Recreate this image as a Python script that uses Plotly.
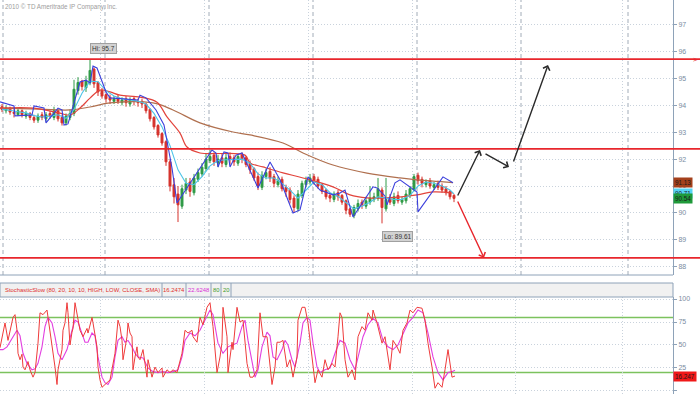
import plotly.graph_objects as go

# ---------------- data ----------------
bar_open = [93.95,93.80,93.90,93.75,93.65,93.80,93.60,93.70,93.55,93.45,
            93.65,93.50,93.70,93.55,93.80,93.55,93.35,93.55,93.70,94.55,
            94.90,94.65,94.85,95.35,94.85,94.55,94.40,94.30,94.15,94.30,
            94.10,94.25,94.05,94.25,94.15,94.15,94.05,93.85,93.55,93.25,
            92.95,92.65,91.90,91.05,90.70,90.25,90.85,91.15,90.75,91.25,
            91.45,91.65,91.95,92.15,91.85,92.05,91.80,92.10,92.05,91.85,
            92.15,92.05,91.85,91.65,91.35,90.95,91.35,91.55,91.35,91.05,
            91.25,90.95,90.85,90.55,90.15,90.65,91.05,91.15,91.35,91.25,
            91.05,90.85,90.65,90.50,90.75,90.65,90.45,90.15,89.90,90.15,
            90.40,90.25,90.40,90.50,90.55,90.85,90.15,90.55,90.35,90.65,
            90.40,90.45,90.65,90.85,91.40,91.25,91.05,91.20,90.95,91.10,
            91.00,90.90,90.80,90.65]
bar_high = [94.05,94.00,93.95,93.85,93.90,93.85,93.80,93.75,93.65,93.70,
            93.75,93.75,93.80,93.95,93.85,93.65,93.70,93.85,94.95,95.05,
            94.95,95.10,95.70,95.40,94.90,94.65,94.45,94.40,94.35,94.40,
            94.30,94.35,94.30,94.35,94.25,94.25,94.10,93.90,93.60,93.30,
            93.00,92.70,92.00,91.30,91.00,91.05,91.30,91.30,91.45,91.65,
            91.85,92.20,92.35,92.25,92.15,92.20,92.20,92.25,92.15,92.20,
            92.25,92.10,91.95,91.70,91.50,91.55,91.65,91.70,91.45,91.35,
            91.35,91.05,90.95,90.65,90.85,91.20,91.35,91.45,91.45,91.35,
            91.10,90.90,90.75,90.80,90.85,90.70,90.50,90.20,90.30,90.50,
            90.50,90.60,91.00,90.75,91.30,90.95,91.30,90.70,90.75,90.80,
            90.60,90.85,91.00,91.45,91.50,91.35,91.25,91.30,91.15,91.20,
            91.10,91.00,90.85,90.70]
bar_low = [93.75,93.70,93.65,93.55,93.60,93.55,93.50,93.45,93.35,93.35,
           93.45,93.40,93.50,93.45,93.40,93.25,93.25,93.45,93.60,94.40,
           94.55,94.50,94.75,94.65,94.35,94.25,94.10,94.05,94.05,94.05,
           94.00,93.95,93.95,94.00,93.95,93.90,93.70,93.40,93.10,92.80,
           92.50,91.75,90.80,90.35,89.66,90.15,90.70,90.60,90.65,91.15,
           91.35,91.55,91.85,91.75,91.70,91.70,91.70,91.80,91.75,91.75,
           91.85,91.70,91.45,91.20,90.85,90.85,91.25,91.15,90.95,90.95,
           90.80,90.60,90.35,90.00,90.05,90.55,90.95,91.05,91.05,90.90,
           90.70,90.50,90.40,90.40,90.45,90.30,89.95,89.85,89.80,90.05,
           90.15,90.15,90.30,90.40,90.45,89.61,90.05,90.30,90.25,90.35,
           90.30,90.35,90.55,90.80,91.05,90.95,90.95,90.90,90.85,90.85,
           90.75,90.65,90.50,90.40]
bar_close = [93.85,93.90,93.75,93.70,93.80,93.65,93.70,93.55,93.45,93.60,
             93.55,93.65,93.60,93.80,93.50,93.35,93.60,93.70,94.60,94.85,
             94.70,94.90,95.30,94.80,94.50,94.35,94.25,94.20,94.25,94.15,
             94.20,94.10,94.20,94.15,94.10,94.05,93.80,93.50,93.20,92.90,
             92.60,91.90,91.00,90.60,90.30,90.90,91.10,90.80,91.30,91.50,
             91.70,92.00,92.10,91.90,92.00,91.85,92.05,92.00,91.90,92.10,
             92.00,91.80,91.60,91.30,91.00,91.40,91.50,91.30,91.10,91.20,
             90.90,90.80,90.50,90.20,90.70,91.10,91.20,91.30,91.20,91.00,
             90.80,90.60,90.55,90.70,90.60,90.40,90.10,89.95,90.20,90.35,
             90.30,90.45,90.55,90.60,90.90,90.20,90.50,90.40,90.60,90.45,
             90.50,90.70,90.90,91.35,91.20,91.10,91.15,91.00,91.05,90.95,
             90.85,90.75,90.60,90.54]
bars = list(range(len(bar_close)))

# long moving average (brown)
ma_long_t = [-0.5,9.5,17,22,27,37.75,42.75,49.5,57.75,62,70.25,75.25,82.75,91.25,99.5,103.75,112.75]
ma_long_v = [93.90,93.86,93.83,93.94,94.09,94.09,93.83,93.35,93.01,92.90,92.60,92.23,91.78,91.48,91.30,91.23,91.13]
# medium moving average (red)
ma_mid_t = [-0.5,8,14.5,17,19.5,22,24.5,27,29.5,34.5,38.75,41.25,44.5,46.25,49.5,60.75,62,65.25,70.25,75.25,82.75,87,91.25,96.25,103.75,107.75,112.75]
ma_mid_v = [93.90,93.90,93.71,93.64,93.90,94.27,94.57,94.50,94.38,94.31,94.12,93.57,92.97,92.45,92.23,92.15,91.86,91.71,91.49,91.30,90.97,90.67,90.56,90.56,90.67,90.78,90.74]
# fast moving average (cyan)
ma_fast_t = [0,2,4,6,8,10,12,14,16,18,20,22,24,26,28,30,32,34,36,38,40,42,44,46,48,50,52,54,56,58,
             60,62,64,66,68,70,72,74,76,78,80,82,84,86,88,90,92,94,96,98,100,102,104,106,108,110,112,113]
ma_fast_v = [93.85,93.82,93.76,93.72,93.62,93.57,93.60,93.65,93.52,93.85,
             94.45,94.90,94.88,94.55,94.35,94.25,94.20,94.16,94.05,93.70,
             93.20,92.50,91.60,91.10,91.05,91.35,91.75,91.95,91.98,91.98,
             92.00,91.85,91.45,91.30,91.30,91.10,90.85,90.55,90.85,91.15,
             91.05,90.75,90.62,90.40,90.15,90.25,90.40,90.60,90.55,90.50,
             90.50,90.65,91.00,91.15,91.10,91.00,90.85,90.71]
# trailing stop line (blue)
sar_t = [-0.5,3,3.25,7.5,8,10.5,11,14,15,15.5,16.5,19.5,21,22,22.75,23.75,26,27,34,34.5,
         36,38.5,40.5,42.5,43.75,52,52.5,53.5,54,55.5,56.5,57,58.5,60,62,64,67,69.5,72.75,74.5,
         76.5,79.5,82.75,84.5,85.75,87.75,92.75,93.75,95.75,96.25,98.25,99.5,103.75,104,110.25,112.75]
sar_v = [94.13,93.98,93.61,93.64,93.98,93.90,93.35,93.90,93.83,93.27,
         93.31,94.87,94.94,94.83,95.46,95.39,94.50,94.28,94.20,94.38,
         94.28,93.83,93.27,91.67,90.37,92.23,92.34,92.23,91.71,92.27,
         92.23,91.71,92.15,92.23,91.60,90.93,91.89,91.23,90.00,90.11,
         91.34,90.85,90.67,90.74,90.85,89.85,90.97,90.93,90.63,90.30,
         91.12,91.23,90.78,90.04,91.34,91.12]

# StochasticSlow %K (red) and %D (magenta)
stoch_k_t = [-0.5,0.75,1.5,2.75,3.25,3.75,4,4.5,5,5.25,
             5.75,6.5,7,7.75,8.25,9,9.5,10.25,11.25,12,
             12.75,13.25,13.75,14,15,15.25,15.75,16.25,16.5,17,
             17.5,17.75,18.25,18.75,19.5,20.25,21.25,21.5,22.5,22.75,
             23.75,24,24.5,25,25.75,27,28.25,28.75,29,29.5,
             30,30.25,30.75,31.25,31.5,32,32.5,32.75,33.25,33.75,
             34,34.5,35.25,36.25,36.5,37.5,38.25,39,40,40.25,
             41.25,42,42.75,43.75,45,45.75,46.5,47.5,47.75,48.75,
             49.5,50.25,51.25,52,52.75,53.75,54.5,55,55.25,56.25,
             56.5,57.5,57.75,58.75,59.5,60.25,61.25,62,62.75,63.75,
             64.5,65.25,66.25,67,67.5,68.25,68.75,69.5,70.25,71.25,
             72,72.75,73.75,74,75,75.75,76.5,77.5,78.25,79,
             80,80.75,81.5,82.5,83.25,84,84.5,85,85.75,86.5,
             87.5,88.25,89,90,90.75,91.5,92.5,92.75,93.75,95,
             95.75,97,97.75,98.75,99.5,100.25,101.25,102,102.75,103.75,
             105,105.75,106.5,107.5,108.25,109,110,110.75,111.5,112.5,
             113.25]
stoch_k_v = [47,74,55,80,83,66,41,34,40,26,
             23,32,23,15,20,52,85,83,88,66,
             45,26,7,23,45,66,74,96,85,50,
             64,68,96,83,66,59,68,63,80,74,
             48,26,12,4,7,12,41,66,77,70,
             55,34,48,59,74,63,59,23,37,48,
             37,34,45,15,34,15,26,20,25,15,
             23,20,23,20,41,66,63,66,59,53,
             80,72,91,96,70,20,37,53,91,59,
             20,53,45,91,75,77,30,15,15,23,
             85,59,59,26,7,26,53,53,55,26,
             34,15,37,77,91,91,74,37,9,23,
             15,34,23,30,26,59,85,80,34,15,
             23,12,59,70,66,85,77,88,74,52,
             59,23,55,48,41,66,74,88,85,91,
             90,77,52,26,3,9,4,23,45,15,
             16.2474]
stoch_d_t = [-0.5,0.25,1.25,2.75,3.75,4.5,5.25,6.25,7.5,8.25,
             9,10,10.75,11.5,12.5,13.25,14,15,16.25,17.5,
             18.25,19,20,20.75,21.5,22.5,23.25,24,25,25.75,
             26.5,27.5,28.25,29,30,30.75,31.5,32.5,33.25,34,
             35.25,36.5,37.75,39,40.25,41.5,42.75,44,45,45.75,
             47,48.25,49.5,50.75,52,52.75,54,55.25,56.5,57.5,
             58.75,60,60.75,61.5,62.5,63.25,64,65,66.25,67,
             67.75,68.75,70,70.75,71.5,72.5,73.25,74.5,75.25,76.25,
             77,77.75,78.75,79.5,80.75,82,83.25,84.5,85.75,87,
             88.25,89,90.25,91.5,92.75,94,95.25,96.5,97.75,99,
             100.25,101.5,102.75,104,105.25,106.5,107.75,109,110.25,111.5,
             112.5,113.25]
stoch_d_v = [45,45,48,59,66,60,41,30,23,24,
             30,48,70,80,74,59,41,34,45,66,
             77,75,63,53,53,63,60,37,15,9,
             7,15,37,55,59,53,55,48,41,37,
             36,25,21,20,21,20,21,23,37,55,
             63,60,66,77,88,83,52,41,48,50,
             52,70,77,55,34,15,23,48,64,60,
             37,34,45,55,50,34,26,52,74,80,
             77,52,26,20,23,25,41,55,52,34,
             23,37,59,72,79,74,55,48,45,50,
             63,74,80,88,85,63,37,20,12,20,
             21,22.6248]
stoch_params = "StochasticSlow (80, 20, 10, 10, HIGH, LOW, CLOSE, SMA)"
stoch_bands = [80, 20]

# drawn support / resistance levels and projected paths
levels = [95.72, 92.38, 88.33]
proj_black = [(113.75, 90.59, 119.5, 92.34), (120.5, 92.23, 126.75, 91.71), (127.75, 91.86, 136.5, 95.5)]
proj_red = [(113.75, 90.48, 120.5, 88.33)]

price_ticks = [88, 89, 90, 91, 92, 93, 94, 95, 96, 97]
stoch_ticks = [0, 25, 50, 75, 100]
session_dotted = [-0.25, 24.5, 50.5, 76.5, 102.5, 128.25, 155]
session_dashed = [0.25, 25.75, 51.75, 77.75, 103.75, 129.75, 156.5]

# ---------------- styling ----------------
FONT = "Liberation Sans, Arial, sans-serif"
AX = "#8ea2b8"
TXT = "#7a8ca2"
GRID = "#c9d2dc"
XR = 673 / 700
Y_MAIN0 = 1 - 275 / 394
Y_HEAD0 = 1 - 297 / 394
Y_HEAD1 = 1 - 283 / 394

fig = go.Figure()

fig.add_trace(go.Candlestick(
    x=bars, open=bar_open, high=bar_high, low=bar_low, close=bar_close,
    increasing=dict(line=dict(color="#2f9a47", width=1), fillcolor="#2f9a47"),
    decreasing=dict(line=dict(color="#d6332d", width=1), fillcolor="#d6332d"),
    whiskerwidth=0, xaxis="x", yaxis="y", showlegend=False, hoverinfo="skip"))

fig.add_trace(go.Scatter(x=ma_long_t, y=ma_long_v, mode="lines", line=dict(color="#b0704f", width=1.2),
                         line_shape="spline", xaxis="x", yaxis="y", showlegend=False, hoverinfo="skip"))
fig.add_trace(go.Scatter(x=ma_mid_t, y=ma_mid_v, mode="lines", line=dict(color="#e2443c", width=1.2),
                         line_shape="spline", xaxis="x", yaxis="y", showlegend=False, hoverinfo="skip"))
fig.add_trace(go.Scatter(x=ma_fast_t, y=ma_fast_v, mode="lines", line=dict(color="#4cc4e8", width=1.1),
                         xaxis="x", yaxis="y", showlegend=False, hoverinfo="skip"))
fig.add_trace(go.Scatter(x=sar_t, y=sar_v, mode="lines", line=dict(color="#3b3fdc", width=1.1),
                         xaxis="x", yaxis="y", showlegend=False, hoverinfo="skip"))

fig.add_trace(go.Scatter(x=stoch_d_t, y=stoch_d_v, mode="lines", line=dict(color="#e23fe0", width=1.1),
                         xaxis="x2", yaxis="y2", showlegend=False, hoverinfo="skip"))
fig.add_trace(go.Scatter(x=stoch_k_t, y=stoch_k_v, mode="lines", line=dict(color="#ef3b3b", width=1),
                         xaxis="x2", yaxis="y2", showlegend=False, hoverinfo="skip"))

shapes = []
for b in session_dashed:
    shapes.append(dict(type="line", xref="x", yref="y domain", x0=b, x1=b, y0=0, y1=1,
                       line=dict(color="#a2acb8", width=1, dash="4px,3px"), layer="below"))
for lv in levels:
    shapes.append(dict(type="line", xref="paper", yref="y", x0=0, x1=1, y0=lv, y1=lv,
                       line=dict(color="#e8262c", width=1.8)))
for bnd in stoch_bands:
    shapes.append(dict(type="line", xref="x2 domain", yref="y2", x0=0, x1=1, y0=bnd, y1=bnd,
                       line=dict(color="#7cc25e", width=1.5), layer="below"))
# pane border + indicator header
shapes.append(dict(type="line", xref="paper", yref="paper", x0=0, x1=XR, y0=Y_MAIN0, y1=Y_MAIN0,
                   line=dict(color=AX, width=1)))
shapes.append(dict(type="rect", xref="paper", yref="paper", x0=0, x1=XR, y0=Y_HEAD0, y1=Y_HEAD1,
                   fillcolor="#f1f1f1", line=dict(color=AX, width=1)))
header_cells = [(0, 162), (162, 186), (186, 211), (211, 221), (221, 231)]
for a, b in header_cells[1:]:
    shapes.append(dict(type="line", xref="paper", yref="paper", x0=a / 700, x1=a / 700, y0=Y_HEAD0, y1=Y_HEAD1,
                       line=dict(color=AX, width=1)))
shapes.append(dict(type="line", xref="paper", yref="paper", x0=231 / 700, x1=231 / 700, y0=Y_HEAD0, y1=Y_HEAD1,
                   line=dict(color=AX, width=1)))

ann = []
ann.append(dict(text="2010 © TD Ameritrade IP Company, Inc.", xref="paper", yref="paper", x=0.004, y=1,
                xanchor="left", yanchor="top", yshift=-1, showarrow=False,
                font=dict(family=FONT, size=6.3, color="#9c9c9c")))
hi_i = bar_high.index(max(bar_high))
lo_i = bar_low.index(min(bar_low))
ann.append(dict(text=f"Hi: {max(bar_high):g}", x=hi_i, y=max(bar_high), xref="x", yref="y",
                xanchor="left", yanchor="middle", yshift=11, showarrow=False,
                bgcolor="#d2d2d2", bordercolor="#a0a0a0", borderwidth=1, borderpad=1,
                font=dict(family=FONT, size=6.5, color="#333")))
ann.append(dict(text=f"Lo: {min(bar_low):g}", x=lo_i, y=min(bar_low), xref="x", yref="y",
                xanchor="left", yanchor="middle", yshift=-13, showarrow=False,
                bgcolor="#d2d2d2", bordercolor="#a0a0a0", borderwidth=1, borderpad=1,
                font=dict(family=FONT, size=6.5, color="#333")))
for val, bg in [(ma_long_v[-1], "#a4401c"), (ma_fast_v[-1], "#55d4f4"), (bar_close[-1], "#1f9a3a")]:
    ann.append(dict(text=f"{val:.2f}", x=XR, y=val, xref="paper", yref="y", xanchor="left", yanchor="middle",
                    showarrow=False, bgcolor=bg, borderpad=1,
                    font=dict(family=FONT, size=6.3, color="#1a1a1a")))
ann.append(dict(text=f"{int(stoch_k_v[-1] * 1000) / 1000:.3f}", x=XR, y=stoch_k_v[-1], xref="paper", yref="y2",
                xanchor="left", yanchor="middle", showarrow=False, bgcolor="#f01818", borderpad=1,
                font=dict(family=FONT, size=6.3, color="#1a1a1a")))
hy = (Y_HEAD0 + Y_HEAD1) / 2
header_texts = [(stoch_params, "#e0302c"), (f"{stoch_k_v[-1]:.4f}", "#e0302c"), (f"{stoch_d_v[-1]:.4f}", "#d82fd6"),
                (f"{stoch_bands[0]}", "#3f9a2a"), (f"{stoch_bands[1]}", "#3f9a2a")]
for (a, b), (t, c) in zip(header_cells, header_texts):
    if a == 0:
        ann.append(dict(text=t, xref="paper", yref="paper", x=3 / 700, y=hy, xanchor="left", yanchor="middle",
                        showarrow=False, font=dict(family=FONT, size=5.9, color=c)))
    else:
        ann.append(dict(text=t, xref="paper", yref="paper", x=(a + b) / 2 / 700, y=hy, xanchor="center",
                        yanchor="middle", showarrow=False, font=dict(family=FONT, size=5.9, color=c)))
for x0, y0, x1, y1 in proj_black:
    ann.append(dict(x=x1, y=y1, ax=x0, ay=y0, xref="x", yref="y", axref="x", ayref="y", text="",
                    showarrow=True, arrowhead=4, arrowsize=1, arrowwidth=1.4, arrowcolor="#2a2a2a"))
for x0, y0, x1, y1 in proj_red:
    ann.append(dict(x=x1, y=y1, ax=x0, ay=y0, xref="x", yref="y", axref="x", ayref="y", text="",
                    showarrow=True, arrowhead=4, arrowsize=1, arrowwidth=1.4, arrowcolor="#e8262c"))
ann.append(dict(text=">", x=1, y=levels[0], xref="paper", yref="y", xanchor="right", yanchor="middle",
                showarrow=False, font=dict(family=FONT, size=8, color="#e8262c")))

xcommon = dict(domain=[0, XR], range=[-0.5, 167.75], showticklabels=False, ticks="",
               tickvals=session_dotted, showgrid=True, gridcolor=GRID, griddash="1px,2px", gridwidth=1,
               zeroline=False, showline=False, fixedrange=True)
ycommon = dict(side="right", showgrid=True, gridcolor=GRID, griddash="1px,2px", gridwidth=1, zeroline=False,
               showline=True, linecolor=AX, linewidth=1, ticks="outside", ticklen=3, tickcolor=AX,
               tickfont=dict(family=FONT, size=7, color=TXT), automargin=False, fixedrange=True)

fig.update_layout(
    width=700, height=394, margin=dict(l=0, r=0, t=0, b=0),
    paper_bgcolor="white", plot_bgcolor="white", showlegend=False,
    xaxis=dict(**xcommon, anchor="y", rangeslider=dict(visible=False)),
    xaxis2=dict(**xcommon, anchor="y2", matches="x"),
    yaxis=dict(**ycommon, domain=[Y_MAIN0, 1], range=[87.69, 97.92], tickvals=price_ticks, anchor="x"),
    yaxis2=dict(**ycommon, domain=[0, Y_HEAD0], range=[-3.3, 102.2], tickvals=stoch_ticks, anchor="x2"),
    shapes=shapes, annotations=ann,
)

fig.write_html("out.html", config={"displayModeBar": False},
               post_script="document.body.style.margin='0';document.body.style.overflow='hidden';")
